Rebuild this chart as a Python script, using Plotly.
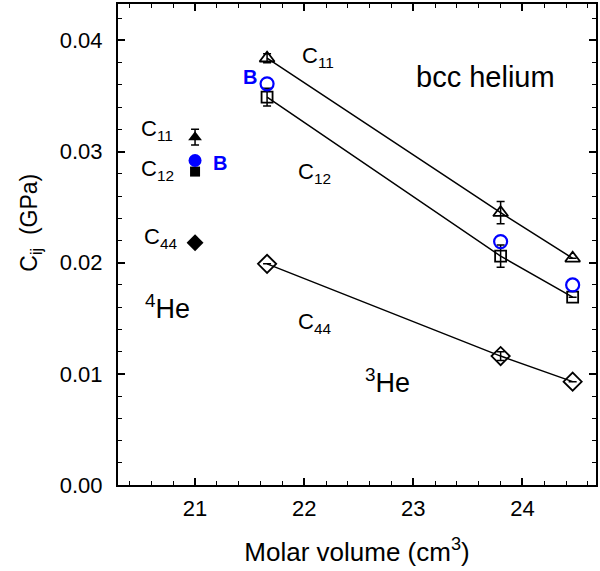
import plotly.graph_objects as go

# bcc 3He elastic constants vs molar volume
v_he3 = [21.66, 23.80, 24.46]
c11_he3 = [0.0384, 0.0245, 0.0204]
c11_he3_err = [0.0004, 0.0010, 0.0]
c12_he3 = [0.0349, 0.0206, 0.0169]
c12_he3_err = [0.0008, 0.0010, 0.0]
c44_he3 = [0.0199, 0.0116, 0.0093]
c44_he3_err = [0.0, 0.0004, 0.0]
b_he3 = [0.0361, 0.0219, 0.0180]

# bcc 4He at a single molar volume
v_he4 = [21.0]
c11_he4 = [0.0313]
c11_he4_err = [0.0007]
c12_he4 = [0.0282]
c12_he4_err = [0.0003]
c44_he4 = [0.0218]
b_he4 = [0.0292]

FONT = "Liberation Sans, Arial, sans-serif"
BLUE = "#0000ff"

fig = go.Figure()

def err(arr):
    return dict(type="data", array=arr, visible=True, color="black",
                thickness=1.5, width=4)

# 3He open symbols joined by lines
fig.add_trace(go.Scatter(x=v_he3, y=c11_he3, mode="lines+markers",
                         line=dict(color="black", width=1.5),
                         marker=dict(symbol="triangle-up-open", size=13, color="black",
                                     line=dict(width=1.8)),
                         error_y=err(c11_he3_err)))
fig.add_trace(go.Scatter(x=v_he3, y=c12_he3, mode="lines+markers",
                         line=dict(color="black", width=1.5),
                         marker=dict(symbol="square-open", size=11, color="black",
                                     line=dict(width=1.8)),
                         error_y=err(c12_he3_err)))
fig.add_trace(go.Scatter(x=v_he3, y=c44_he3, mode="lines+markers",
                         line=dict(color="black", width=1.5),
                         marker=dict(symbol="diamond-open", size=14, color="black",
                                     line=dict(width=1.8)),
                         error_y=err(c44_he3_err)))
fig.add_trace(go.Scatter(x=v_he3, y=b_he3, mode="markers",
                         marker=dict(symbol="circle-open", size=13, color=BLUE,
                                     line=dict(width=2.2))))

# 4He filled symbols
fig.add_trace(go.Scatter(x=v_he4, y=c11_he4, mode="markers",
                         marker=dict(symbol="triangle-up", size=12, color="black"),
                         error_y=err(c11_he4_err)))
fig.add_trace(go.Scatter(x=v_he4, y=c12_he4, mode="markers",
                         marker=dict(symbol="square", size=10, color="black"),
                         error_y=err(c12_he4_err)))
fig.add_trace(go.Scatter(x=v_he4, y=c44_he4, mode="markers",
                         marker=dict(symbol="diamond", size=13, color="black")))
fig.add_trace(go.Scatter(x=v_he4, y=b_he4, mode="markers",
                         marker=dict(symbol="circle", size=13, color=BLUE)))

labels = [
    (22.13, 0.0385, "C<sub>11</sub>", 22),
    (22.09, 0.0281, "C<sub>12</sub>", 22),
    (22.09, 0.0146, "C<sub>44</sub>", 22),
    (20.65, 0.0319, "C<sub>11</sub>", 22),
    (20.66, 0.0283, "C<sub>12</sub>", 22),
    (20.68, 0.0222, "C<sub>44</sub>", 22),
    (20.75, 0.0160, "<sup>4</sup>He", 27),
    (22.76, 0.0094, "<sup>3</sup>He", 27),
    (23.66, 0.0367, "bcc helium", 29),
]
for x, y, t, s in labels:
    fig.add_annotation(x=x, y=y, text=t, showarrow=False,
                       font=dict(family=FONT, size=s, color="black"))
for x, y in [(21.50, 0.0367), (21.23, 0.0290)]:
    fig.add_annotation(x=x, y=y, text="<b>B</b>", showarrow=False,
                       font=dict(family=FONT, size=20, color=BLUE))

# y-axis title, placed by hand
fig.add_annotation(xref="paper", yref="paper", x=-0.218, y=0.546,
                   text="C<sub>ij</sub>  (GPa)", textangle=-90, showarrow=False,
                   font=dict(family=FONT, size=23, color="black"))

axis_common = dict(showline=True, linecolor="black", linewidth=2, mirror="allticks",
                   ticks="inside", ticklen=7, tickwidth=1.5, tickcolor="black",
                   showgrid=False, zeroline=False,
                   tickfont=dict(family=FONT, size=22, color="black"))

fig.update_xaxes(range=[20.294, 24.674], dtick=1, tick0=21, ticklabelstandoff=3,
                 minor=dict(dtick=0.2, ticks="inside", ticklen=4, tickwidth=1.2,
                            tickcolor="black", showgrid=False),
                 title=dict(text="Molar volume (cm<sup>3</sup>)", standoff=22,
                            font=dict(family=FONT, size=26, color="black")),
                 **axis_common)
fig.update_yaxes(range=[0, 0.04328], dtick=0.01, tick0=0, tickformat=".2f",
                 ticklabelstandoff=9,
                 minor=dict(dtick=0.002, ticks="inside", ticklen=4, tickwidth=1.2,
                            tickcolor="black", showgrid=False),
                 **axis_common)

fig.update_layout(width=600, height=571, showlegend=False,
                  plot_bgcolor="white", paper_bgcolor="white",
                  margin=dict(l=118, r=2, t=4, b=86))

fig.write_html("out.html")
